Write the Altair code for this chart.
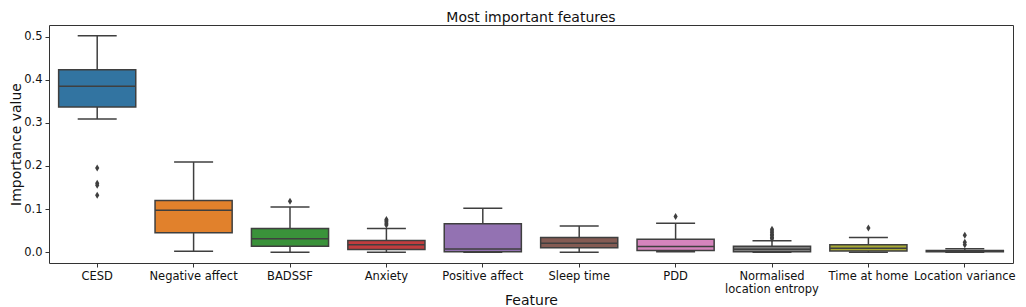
import altair as alt
import pandas as pd

title_text = ["Most important features"]
features = ["CESD", "Negative affect", "BADSSF", "Anxiety", "Positive affect",
            "Sleep time", "PDD", "Normalised\nlocation entropy", "Time at home",
            "Location variance"]
colors = ["#3274a1", "#e1812c", "#3a923a", "#c03d3e", "#9372b2",
          "#845b53", "#d684bd", "#7f7f7f", "#a9aa35", "#2ea8b8"]
whisker_low = [0.309, 0.002, 0.000, 0.000, 0.000, 0.000, 0.001, 0.000, 0.000, 0.000]
q1 = [0.337, 0.045, 0.014, 0.006, 0.001, 0.010, 0.004, 0.001, 0.003, 0.001]
median = [0.385, 0.097, 0.031, 0.017, 0.0075, 0.021, 0.013, 0.007, 0.009, 0.002]
q3 = [0.423, 0.120, 0.055, 0.027, 0.066, 0.034, 0.030, 0.0135, 0.0175, 0.004]
whisker_high = [0.502, 0.209, 0.105, 0.055, 0.102, 0.061, 0.067, 0.0265, 0.034, 0.008]

out_feature = (["CESD"] * 4 + ["BADSSF"] + ["Anxiety"] * 5 + ["PDD"]
               + ["Normalised\nlocation entropy"] * 7 + ["Time at home"]
               + ["Location variance"] * 3)
out_value = ([0.195, 0.160, 0.155, 0.132] + [0.118]
             + [0.076, 0.073, 0.070, 0.066, 0.063] + [0.083]
             + [0.053, 0.049, 0.045, 0.041, 0.038, 0.034, 0.031] + [0.056]
             + [0.039, 0.023, 0.017])

box = pd.DataFrame({"feature": features, "wl": whisker_low, "q1": q1,
                    "med": median, "q3": q3, "wh": whisker_high})
outl = pd.DataFrame({"feature": out_feature, "value": out_value})
ttl = pd.DataFrame({"t": title_text})

edge = "#3f3f3f"
FONT = "DejaVu Sans"
W, H = 964, 238

x = alt.X("feature:N", sort=features,
          scale=alt.Scale(domain=features, paddingInner=0, paddingOuter=0),
          axis=alt.Axis(title="Feature", labelAngle=0,
                        labelExpr="split(datum.label, '\\n')",
                        labelFontSize=11.5, labelLineHeight=13, labelColor="#111",
                        labelPadding=3, tickSize=4, tickColor="#333",
                        domain=False, grid=False, labelOverlap=False,
                        titleFontSize=14, titleFontWeight="normal", titleColor="#111",
                        titleY=41.5, titleBaseline="alphabetic"))

yaxis = alt.Axis(title="Importance value", values=[0, 0.1, 0.2, 0.3, 0.4, 0.5],
                 format=".1f", labelFontSize=11.5, labelColor="#111",
                 labelPadding=3, tickSize=4, tickColor="#333",
                 domain=False, grid=False,
                 titleFontSize=14, titleFontWeight="normal", titleColor="#111",
                 titleX=-29, titleY=H / 2, titleAlign="center",
                 titleBaseline="alphabetic", titleAngle=-90)
yscale = alt.Scale(domain=[-0.0251, 0.527], nice=False, zero=False)


def Y(field):
    return alt.Y(f"{field}:Q", scale=yscale, axis=yaxis)


base = alt.Chart(box)

whisker = base.mark_rule(color=edge, strokeWidth=1.5).encode(x=x, y=Y("wl"), y2="wh")
cap_lo = base.mark_tick(color=edge, thickness=1.5, size=39, opacity=1).encode(x=x, y=Y("wl"))
cap_hi = base.mark_tick(color=edge, thickness=1.5, size=39, opacity=1).encode(x=x, y=Y("wh"))
boxes = base.mark_bar(width=alt.RelativeBandSize(0.8), stroke=edge, strokeWidth=1.5,
                      opacity=1).encode(
    x=x, y=Y("q1"), y2="q3",
    color=alt.Color("feature:N", scale=alt.Scale(domain=features, range=colors), legend=None))
med = base.mark_tick(color=edge, thickness=1.5, size=77, opacity=1).encode(x=x, y=Y("med"))
points = alt.Chart(outl).mark_point(
    shape="M0,-1L0.6,0L0,1L-0.6,0Z", filled=True, size=49, color=edge, opacity=1
).encode(x=x, y=Y("value"))
title_mark = alt.Chart(ttl).mark_text(
    fontSize=14, color="#111", align="center", baseline="alphabetic"
).encode(text="t:N", x=alt.value(W / 2), y=alt.value(-3.5))

chart = alt.layer(whisker, cap_lo, cap_hi, boxes, med, points, title_mark).properties(
    width=W, height=H,
    padding={"left": 41, "top": 17, "right": 5, "bottom": 44},
    autosize=alt.AutoSizeParams(type="none"),
).configure(font=FONT).configure_view(stroke="#333", strokeWidth=1)

chart.save("out.html", embed_options={"renderer": "svg", "actions": False})
